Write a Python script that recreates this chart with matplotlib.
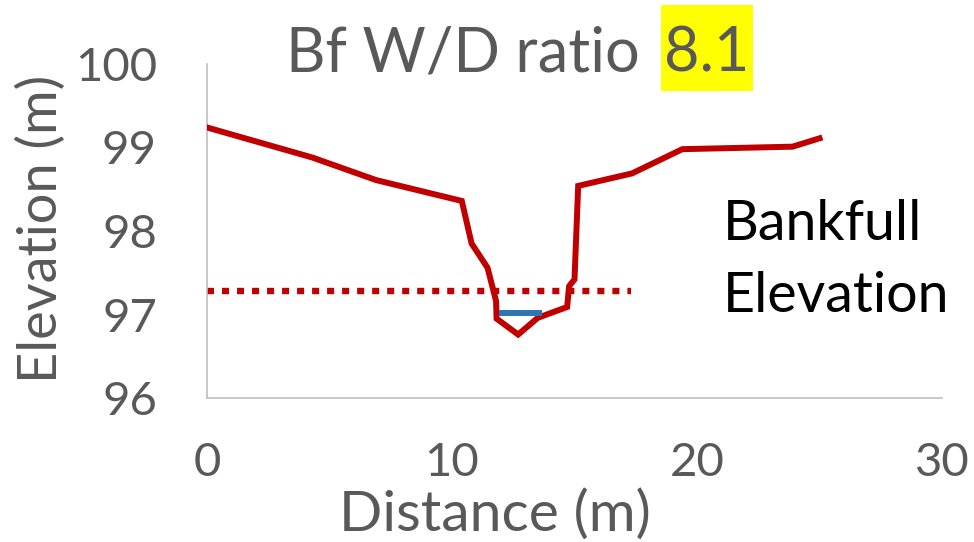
import matplotlib
matplotlib.use("Agg")
import matplotlib.pyplot as plt
from matplotlib.patches import Rectangle

# Ground profile (distance m, elevation m)
distance = [0.0, 4.3, 6.9, 10.4, 10.8, 11.45, 11.8, 11.82, 12.7, 13.5, 14.7, 14.78, 15.0, 15.15, 17.35, 19.4, 23.9, 25.0]
elevation = [99.24, 98.88, 98.61, 98.36, 97.85, 97.56, 97.16, 96.95, 96.76, 96.96, 97.09, 97.34, 97.42, 98.54, 98.69, 98.98, 99.01, 99.11]

# Bankfull elevation line
bankfull_x = [0.0, 17.3]
bankfull_y = [97.28, 97.28]

# Water surface line
water_x = [11.93, 13.69]
water_y = [97.02, 97.02]

xticks = [0, 10, 20, 30]
yticks = [96, 97, 98, 99, 100]

title_main = "Bf W/D ratio"
title_value = "8.1"
annotation = "Bankfull\nElevation"

GRAY = "#595959"
RED = "#C00000"
BLUE = "#2E75B6"
FONT = "Lato"

W, H = 974, 542
fig = plt.figure(figsize=(W/100, H/100), dpi=100)
ax = fig.add_axes([207/W, 1-398/H, (942-207)/W, (398-64)/H])

ax.plot(distance, elevation, color=RED, lw=4.3, solid_joinstyle="miter", zorder=3)
ax.plot(bankfull_x, bankfull_y, color=RED, lw=4.6, linestyle=(0, (1.1, 1.25)),
        dash_capstyle="butt", zorder=2)
ax.plot(water_x, water_y, color=BLUE, lw=4.3, solid_capstyle="butt", zorder=4)

ax.set_xlim(0, 30)
ax.set_ylim(96, 100)
ax.set_xticks(xticks)
ax.set_yticks(yticks)
ax.set_xticklabels([str(v) for v in xticks], fontsize=34, color=GRAY, family=FONT)
ax.set_yticklabels([str(v) for v in yticks], fontsize=34, color=GRAY, family=FONT)
ax.tick_params(length=0)
ax.tick_params(axis="y", pad=36)
ax.tick_params(axis="x", pad=32)

for side in ["top", "right"]:
    ax.spines[side].set_visible(False)
for side in ["left", "bottom"]:
    ax.spines[side].set_color("#BFBFBF")
    ax.spines[side].set_linewidth(1.2)

# Axis titles
fig.text(495/W, 1-531/H, "Distance (m)", fontsize=41, color=GRAY, family=FONT,
         ha="center", va="baseline")
fig.text(41/W, 1-229/H, "Elevation (m)", fontsize=39, color=GRAY, family=FONT,
         ha="center", va="center", rotation=90)

# Chart title with highlighted value
fig.patches.append(Rectangle((661/W, 1-91/H), 92/W, 86/H, transform=fig.transFigure,
                             facecolor="#FFFF00", edgecolor="none", zorder=0))
fig.text(640/W, 1-71/H, title_main, fontsize=44, color=GRAY, family=FONT,
         ha="right", va="baseline")
fig.text(707/W, 1-71/H, title_value, fontsize=44, color=GRAY, family=FONT,
         ha="center", va="baseline")

fig.text(723/W, 1-312/H, annotation, fontsize=40, color="black", family=FONT,
         ha="left", va="baseline", linespacing=1.52)

fig.savefig("out.png", dpi=100)
